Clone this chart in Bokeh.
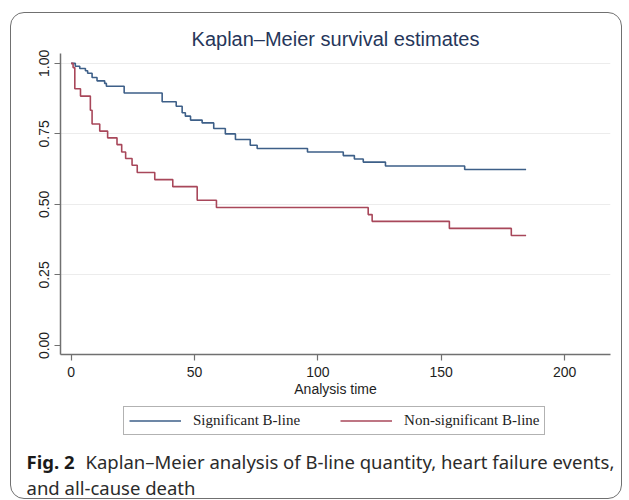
from bokeh.plotting import figure
from bokeh.layouts import column
from bokeh.models import Range1d, Legend, LegendItem, Label, FixedTicker
from bokeh.embed import file_html
from bokeh.resources import INLINE

# Kaplan-Meier step data
blue_t = [0, 1.7, 3.5, 5.8, 6.7, 8.5, 10.5, 13.6, 14.3, 21.5, 36.9, 42.6, 45.0, 46.3,
          48.4, 53.1, 57.8, 62.5, 66.6, 72.6, 75.4, 95.8, 110.3, 114.8, 118.4, 127.4,
          159.5, 184.4]
blue_s = [1.0, 0.990, 0.982, 0.974, 0.965, 0.950, 0.938, 0.929, 0.919, 0.895, 0.864,
          0.848, 0.825, 0.813, 0.799, 0.789, 0.769, 0.750, 0.730, 0.710, 0.698, 0.686,
          0.673, 0.661, 0.650, 0.636, 0.624, 0.624]

red_t = [0, 0.8, 1.5, 3.8, 7.8, 8.5, 11.6, 14.8, 18.6, 20.5, 22.1, 24.7, 26.8, 33.9,
         41.2, 51.1, 58.9, 120.4, 122.0, 153.3, 178.4, 184.4]
red_s = [1.0, 0.985, 0.910, 0.884, 0.834, 0.785, 0.760, 0.736, 0.712, 0.686, 0.663,
         0.639, 0.613, 0.588, 0.563, 0.515, 0.489, 0.464, 0.440, 0.415, 0.390, 0.390]

x_ticks = [0, 50, 100, 150, 200]
y_ticks = [0.0, 0.25, 0.5, 0.75, 1.0]
y_tick_labels = {0.0: "0.00", 0.25: "0.25", 0.5: "0.50", 0.75: "0.75", 1.0: "1.00"}

series_names = ["Significant B-line", "Non-significant B-line"]
title_text = "Kaplan\u2013Meier survival estimates"
x_label = "Analysis time"
caption_bold = "Fig. 2"
caption_line1 = "Kaplan\u2013Meier analysis of B-line quantity, heart failure events,"
caption_line2 = "and all-cause death"

BLUE = "#3d5f88"
RED = "#a8475a"
W = 612

# ---------------- main chart ----------------
p = figure(width=W, height=393, output_backend="svg", toolbar_location=None,
           x_range=Range1d(-4.3, 218.6), y_range=Range1d(-0.032, 1.035),
           min_border_left=50, min_border_right=12, min_border_top=41,
           min_border_bottom=51)
p.frame_align = False

p.title.text = title_text
p.title.align = "center"
p.title.text_font = "Liberation Sans"
p.title.text_font_size = "20px"
p.title.text_font_style = "normal"
p.title.text_color = "#26365a"
p.title.standoff = 7

p.outline_line_color = None
p.background_fill_color = "white"
p.border_fill_color = None

p.xgrid.visible = False
p.ygrid.ticker = FixedTicker(ticks=[0.25, 0.5, 0.75, 1.0])
p.ygrid.grid_line_color = "#ececec"
p.ygrid.grid_line_width = 1

for ax in (p.xaxis[0], p.yaxis[0]):
    ax.axis_line_color = "#707070"
    ax.axis_line_width = 1.5
    ax.major_tick_line_color = "#707070"
    ax.major_tick_line_width = 1.2
    ax.major_tick_out = 6
    ax.major_tick_in = 0
    ax.minor_tick_line_color = None
    ax.major_label_text_font = "Liberation Sans"
    ax.major_label_text_font_size = "14px"
    ax.major_label_text_color = "#1e1e1e"

p.xaxis.ticker = FixedTicker(ticks=x_ticks)
p.xaxis.major_label_standoff = 6
p.xaxis.axis_label = x_label
p.xaxis.axis_label_text_font = "Liberation Sans"
p.xaxis.axis_label_text_font_size = "14px"
p.xaxis.axis_label_text_font_style = "normal"
p.xaxis.axis_label_text_color = "#1e1e1e"
p.xaxis.axis_label_standoff = 1

p.yaxis.ticker = FixedTicker(ticks=y_ticks)
p.yaxis.major_label_overrides = y_tick_labels
p.yaxis.major_label_orientation = "vertical"
p.yaxis.major_label_standoff = 5

p.step(blue_t, blue_s, mode="after", line_color=BLUE, line_width=1.6)
p.step(red_t, red_s, mode="after", line_color=RED, line_width=1.6)

# ---------------- legend + caption panel ----------------
H2 = 94
q = figure(width=W, height=H2, output_backend="svg", toolbar_location=None,
           x_range=Range1d(0, W), y_range=Range1d(H2, 0),
           x_axis_location=None, y_axis_location=None,
           min_border=0, min_border_left=0, min_border_right=0,
           min_border_top=0, min_border_bottom=0)
q.title = None
q.frame_align = False
q.grid.visible = False
q.outline_line_color = None
q.background_fill_color = None
q.border_fill_color = None

# legend swatches: the same series, mapped to an off-screen range
q.extra_y_ranges = {"off": Range1d(20, 21)}
lb = q.step(blue_t, blue_s, mode="after", line_color=BLUE, line_width=1.3,
            y_range_name="off")
lr = q.step(red_t, red_s, mode="after", line_color=RED, line_width=1.3,
            y_range_name="off")

legend = Legend(items=[LegendItem(label=series_names[0], renderers=[lb]),
                       LegendItem(label=series_names[1], renderers=[lr])],
                orientation="horizontal", location=(113, H2 - 30),
                label_text_font="Liberation Serif", label_text_font_size="15px",
                label_text_color="#222222",
                glyph_width=52, glyph_height=17, label_standoff=12, spacing=40,
                padding=5, margin=0, border_line_color="#666666",
                border_line_width=1, background_fill_color="white",
                background_fill_alpha=1)
q.add_layout(legend, "center")

q.add_layout(Label(x=16, y=56, text=caption_bold, text_font="Noto Sans",
                   text_font_size="18.5px", text_font_style="bold",
                   text_color="#1a1a1a", text_baseline="alphabetic"))
q.add_layout(Label(x=75, y=56, text=caption_line1, text_font="Noto Sans",
                   text_font_size="18.5px", text_color="#2b2b2b",
                   text_baseline="alphabetic"))
q.add_layout(Label(x=16, y=81.5, text=caption_line2, text_font="Noto Sans",
                   text_font_size="18.5px", text_color="#2b2b2b",
                   text_baseline="alphabetic"))

layout = column(p, q, spacing=0)
layout.styles = {"outline": "1.5px solid #707070", "outline-offset": "-1.5px",
                 "border-radius": "14px", "margin-top": "12px",
                 "margin-left": "10px"}

open("out.html", "w").write(file_html(layout, INLINE))
